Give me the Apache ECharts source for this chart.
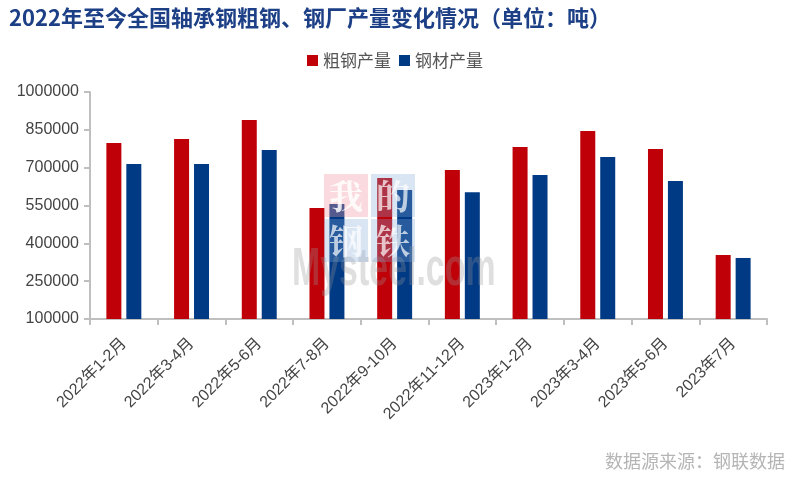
<!DOCTYPE html>
<html>
<head>
<meta charset="utf-8">
<script src="https://cdn.jsdelivr.net/npm/echarts@6/dist/echarts.min.js"></script>
<style>html,body{margin:0;padding:0;background:#fff;}#c{width:790px;height:477px;}</style>
</head>
<body>
<div id="c"></div>
<script>
var categories = ['2022年1-2月','2022年3-4月','2022年5-6月','2022年7-8月','2022年9-10月','2022年11-12月','2023年1-2月','2023年3-4月','2023年5-6月','2023年7月'];
var crudeSteel = [798000, 814000, 889000, 540000, 659000, 691000, 782000, 845000, 774000, 354000];
var finishedSteel = [715000, 715000, 770000, 556000, 611000, 603000, 671000, 742000, 647000, 342000];
var seriesNames = ['粗钢产量', '钢材产量'];
var yTicks = {min: 100000, max: 1000000, interval: 150000};

var chart = echarts.init(document.getElementById('c'));
var cjk = '"Noto Sans CJK SC", sans-serif';
var wmFont = 'bold 34px "Noto Serif CJK SC", "Noto Sans CJK SC"';
chart.setOption({
  animation: false,
  backgroundColor: '#fff',
  title: {
    text: '2022年至今全国轴承钢粗钢、钢厂产量变化情况（单位：吨）',
    left: 4, top: 2,
    textStyle: {fontFamily: cjk, fontSize: 22, fontWeight: 'bold', color: '#1c3f86'}
  },
  legend: {
    data: seriesNames,
    top: 47, left: 'center',
    itemWidth: 11, itemHeight: 11, itemGap: 8,
    icon: 'rect',
    textStyle: {fontFamily: cjk, fontSize: 17, color: '#555'}
  },
  grid: {left: 90, right: 23, top: 92, bottom: 158},
  xAxis: {
    type: 'category',
    data: categories,
    axisLine: {lineStyle: {color: '#bfbfbf', width: 2}},
    axisTick: {show: true, length: 6, lineStyle: {color: '#bfbfbf', width: 2}},
    axisLabel: {interval: 0, rotate: 45, fontFamily: 'Liberation Sans, Arial, ' + cjk, fontSize: 16, color: '#444', margin: 22}
  },
  yAxis: {
    type: 'value',
    min: yTicks.min, max: yTicks.max, interval: yTicks.interval,
    axisLine: {show: true, lineStyle: {color: '#bfbfbf', width: 2}},
    axisTick: {show: true, length: 6, lineStyle: {color: '#bfbfbf', width: 2}},
    splitLine: {show: false},
    axisLabel: {fontFamily: 'Liberation Sans, Arial, sans-serif', fontSize: 16, color: '#444', margin: 11,
      formatter: function (v) { return String(v); }}
  },
  series: [
    {name: seriesNames[0], type: 'bar', data: crudeSteel, barWidth: 15, barGap: '33%', itemStyle: {color: '#c00008'}},
    {name: seriesNames[1], type: 'bar', data: finishedSteel, barWidth: 15, itemStyle: {color: '#003a85'}}
  ],
  graphic: [
    {type: 'rect', silent: true, z: 100, shape: {x: 324, y: 174, width: 44, height: 43}, style: {fill: 'rgba(240,150,160,0.35)'}},
    {type: 'rect', silent: true, z: 100, shape: {x: 371, y: 174, width: 44, height: 43}, style: {fill: 'rgba(130,170,215,0.3)'}},
    {type: 'rect', silent: true, z: 100, shape: {x: 324, y: 219, width: 44, height: 43}, style: {fill: 'rgba(130,170,215,0.3)'}},
    {type: 'rect', silent: true, z: 100, shape: {x: 371, y: 219, width: 44, height: 43}, style: {fill: 'rgba(130,170,215,0.3)'}},
    {type: 'text', silent: true, z: 101, style: {x: 346, y: 196, text: '我', fill: 'rgba(255,255,255,0.85)', font: wmFont, align: 'center', verticalAlign: 'middle'}},
    {type: 'text', silent: true, z: 101, style: {x: 393, y: 196, text: '的', fill: 'rgba(255,255,255,0.7)', font: wmFont, align: 'center', verticalAlign: 'middle'}},
    {type: 'text', silent: true, z: 101, style: {x: 346, y: 241, text: '钢', fill: 'rgba(255,255,255,0.7)', font: wmFont, align: 'center', verticalAlign: 'middle'}},
    {type: 'text', silent: true, z: 101, style: {x: 393, y: 241, text: '铁', fill: 'rgba(255,255,255,0.7)', font: wmFont, align: 'center', verticalAlign: 'middle'}},
    {type: 'text', silent: true, z: 99, x: 292, y: 270, scaleX: 0.64, originX: 0, originY: 0,
      style: {x: 0, y: 0, text: 'Mysteel.com', fill: 'rgba(150,150,150,0.3)', font: 'bold 53px "Liberation Sans", Arial', align: 'left', verticalAlign: 'middle'}},
    {type: 'text', right: 5, top: 452, silent: true, style: {text: '数据源来源：钢联数据', fill: '#b5b5b5', font: '18px "Noto Sans CJK SC"'}}
  ]
});
</script>
</body>
</html>
